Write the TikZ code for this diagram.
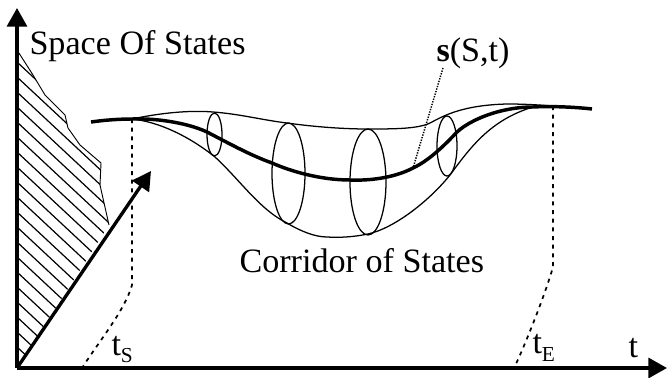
\documentclass[tikz,border=0pt]{standalone}
\usepackage{fontspec}
\setmainfont{Liberation Serif}
\usetikzlibrary{arrows.meta}
\tikzset{every picture/.style={line width=0.75pt}}
\tikzset{
  bigaxis/.style={line width=2.5pt,-{Triangle[length=14pt,width=15pt]}},
  edgeline/.style={line width=0.95pt},
  meanline/.style={line width=2.6pt},
  ringline/.style={line width=0.95pt},
  hatchline/.style={line width=0.9pt},
  tickline/.style={line width=1.3pt,dash pattern=on 3pt off 3.5pt},
  leaderline/.style={line width=1.1pt,dash pattern=on 1pt off 1pt},
  bigtext/.style={font=\fontsize{25.6}{30}\selectfont,inner sep=0pt,anchor=base west},
}

\begin{document}
\begin{tikzpicture}[x=0.75pt,y=0.75pt,yscale=-1]
\useasboundingbox (0,0) rectangle (667,378);

% Axes points
\coordinate (origin) at (17,368);
\coordinate (topend) at (17,8);
\coordinate (rightend) at (667,368);
\coordinate (diagend) at (151,171);
\coordinate (startpt) at (132,119);
\coordinate (endpt) at (553,106);

%Hatched region
\begin{scope}
\clip (17,50) -- (33,75) -- (45,95) -- (65,115) -- (68,128) -- (80,145) -- (101,163) -- (100,185) -- (109,225) -- (origin) -- cycle ;
\foreach \ystart in {47,62,...,362} {
  \draw [hatchline] (17,\ystart) -- (137,\ystart+112) ;
}
\end{scope}
\draw [line width=0.7pt] (17,50) -- (33,75) -- (45,95) -- (65,115) -- (68,128) -- (80,145) -- (101,163) -- (100,185) -- (109,225) ;

%Axes
\draw [bigaxis] (origin) -- (topend) ;
\draw [bigaxis] (origin) -- (rightend) ;
\draw [bigaxis] (origin) -- (diagend) ;

%Corridor upper edge
\draw [edgeline] (startpt) .. controls (160,113) and (190,110) .. (213,112) .. controls (240,114) and (262,120) .. (287,123) .. controls (315,127) and (345,129) .. (367,129) .. controls (395,129) and (420,129) .. (432,122) .. controls (450,112) and (470,105) .. (507,104) .. controls (525,104) and (540,105) .. (endpt) ;
%Corridor lower edge
\draw [edgeline] (startpt) .. controls (160,122) and (190,137) .. (215,157) .. controls (240,180) and (260,210) .. (287,223) .. controls (300,231) and (315,237) .. (327,237) .. controls (345,238) and (358,236) .. (368,234) .. controls (395,228) and (430,200) .. (450,175) .. controls (470,148) and (490,120) .. (533,107) -- (endpt) ;
%Mean line
\draw [meanline] (91,122) .. controls (105,120) and (120,119) .. (startpt) .. controls (160,118) and (190,124) .. (207,132) .. controls (232,145) and (250,155) .. (272,163) .. controls (290,171) and (320,180) .. (350,180) .. controls (375,181) and (398,176) .. (413,168) .. controls (428,161) and (443,147) .. (457,132) .. controls (470,120) and (500,107) .. (533,107) .. controls (550,106) and (575,107) .. (592,109) ;

%Rings
\draw [ringline] (214.5,134.5) ellipse (7.5 and 21.5) ;
\draw [ringline] (288.5,173.5) ellipse (16.5 and 50.5) ;
\draw [ringline] (368,182) ellipse (18 and 53) ;
\draw [ringline] (447,146) ellipse (10 and 30) ;

%Time marks
\draw [tickline] (startpt) -- (132,285) .. controls (125,310) and (100,340) .. (82,368) ;
\draw [tickline] (endpt) -- (553,267) .. controls (545,295) and (525,345) .. (515,366) ;
%Leader
\draw [leaderline] (443,68) -- (413,168) ;

% Text Node
\node (spacelabel) [bigtext] at (29,55) {Space Of States};
% Text Node
\node (corridorlabel) [bigtext] at (239,272) {Corridor of States};
% Text Node
\node (funclabel) [bigtext] at (436,61) {\textbf{s}(S,t)};
% Text Node
\node (startlabel) [bigtext] at (111,355) {t\raisebox{-5.25pt}{\fontsize{16}{20}\selectfont S}};
% Text Node
\node (endlabel) [bigtext] at (532,353) {t\raisebox{-6pt}{\fontsize{16}{20}\selectfont E}};
% Text Node
\node (timelabel) [bigtext] at (628,357) {t};

\end{tikzpicture}
\end{document}
